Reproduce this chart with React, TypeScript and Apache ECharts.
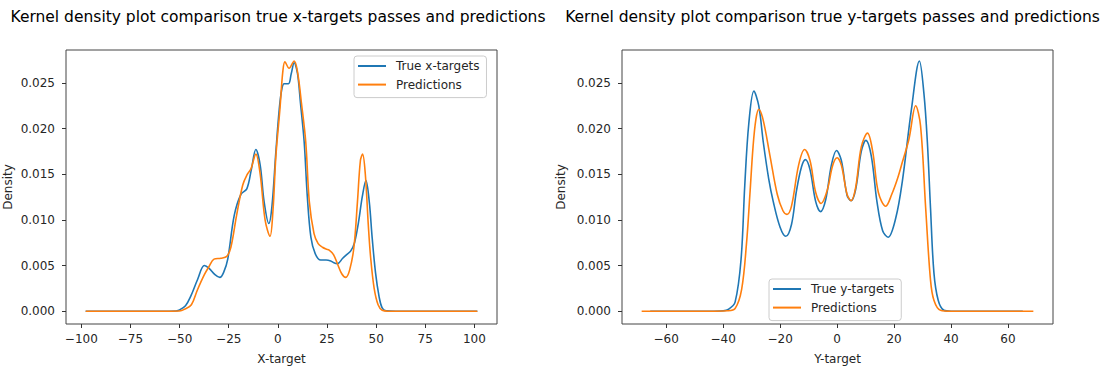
import React, { useEffect, useRef } from "react";
import * as echarts from "echarts";

// ---- data ----
const trueXTargets: [number, number][] = [
  [-97.8, 0], [-60, 0], [-52, 0.00002], [-50.5, 0.0001], [-47, 0.0006], [-44.2, 0.0017], [-40.8, 0.0035],
  [-37.4, 0.005], [-35, 0.0047], [-32, 0.004], [-29.5, 0.0037], [-27.5, 0.0043], [-25.5, 0.0057],
  [-22.2, 0.0105], [-18.8, 0.0128], [-15.8, 0.0134], [-13.5, 0.0155], [-11.2, 0.0177], [-9, 0.016],
  [-7, 0.012], [-4.6, 0.0096], [-3, 0.0115], [-1, 0.0175], [0.7, 0.0221], [2, 0.0243], [3.2, 0.0249],
  [5.4, 0.0249], [6.8, 0.026], [8.3, 0.0272], [10, 0.026], [11.5, 0.0228], [13.4, 0.0185], [15, 0.0125],
  [16.8, 0.0081], [19, 0.0063], [21.8, 0.0056], [24.5, 0.0056], [26.9, 0.0055], [28.5, 0.0053],
  [30.3, 0.0052], [33, 0.0058], [35, 0.0062], [37.1, 0.0066], [39, 0.0075], [41, 0.0097], [43, 0.0126],
  [44.8, 0.0143], [46.5, 0.012], [48, 0.008], [49.7, 0.0042], [51.5, 0.0016], [53, 0.0004], [55, 0.00005],
  [60, 0], [101.5, 0],
];
const predictionsX: [number, number][] = [
  [-97.8, 0], [-60, 0], [-50, 0.00003], [-47.6, 0.0002], [-44, 0.0007], [-41, 0.0023], [-37.4, 0.004],
  [-35, 0.0049], [-32.5, 0.0057], [-29, 0.0058], [-26, 0.006], [-23.9, 0.007], [-21, 0.0105],
  [-17.9, 0.0138], [-15.5, 0.015], [-13.7, 0.0156], [-11.2, 0.0172], [-9, 0.015], [-6.5, 0.01],
  [-4, 0.0082], [-2.5, 0.011], [-1, 0.017], [1, 0.022], [2.5, 0.0262], [3.6, 0.0273], [5.7, 0.0266],
  [8.3, 0.0274], [10, 0.0262], [12, 0.0228], [14.2, 0.0185], [16, 0.012], [18.4, 0.0085], [20.5, 0.0074],
  [22.7, 0.007], [24.5, 0.0068], [26.1, 0.0067], [28.3, 0.0062], [30.3, 0.0052], [32.5, 0.0041],
  [34.5, 0.0037], [36.5, 0.0045], [38.7, 0.007], [40.5, 0.012], [42, 0.0165], [43.1, 0.0172],
  [44.5, 0.015], [46, 0.0095], [47.2, 0.0059], [49, 0.0025], [51, 0.0007], [53.1, 0.0001], [56, 0],
  [101.5, 0],
];
const trueYTargets: [number, number][] = [
  [-65.6, 0], [-45, 0], [-40, 0.00005], [-38.2, 0.0002], [-35.8, 0.001], [-33.7, 0.0057], [-32.4, 0.0138],
  [-31, 0.0205], [-29.2, 0.0241], [-27.5, 0.0225], [-25.9, 0.0185], [-24, 0.0145], [-22.4, 0.012],
  [-20, 0.0092], [-18, 0.0082], [-16, 0.0095], [-14.3, 0.0131], [-12.5, 0.0158], [-11.1, 0.0166],
  [-9.5, 0.0155], [-7.5, 0.012], [-5.8, 0.0109], [-4, 0.0122], [-2, 0.016], [-0.2, 0.0176], [1.5, 0.0165],
  [3.5, 0.0127], [4.9, 0.0121], [6.5, 0.0133], [8.5, 0.0175], [10.1, 0.0187], [12, 0.017], [14, 0.012],
  [16, 0.0088], [17.9, 0.0081], [20.6, 0.0102], [22.9, 0.0142], [26.1, 0.0221], [28.9, 0.0274],
  [30.5, 0.0238], [31.7, 0.0185], [32.8, 0.0113], [34, 0.0042], [35.5, 0.0012], [37.5, 0.0001], [40, 0],
  [65.2, 0],
];
const predictionsY: [number, number][] = [
  [-68.6, 0], [-45, 0], [-38.5, 0.00005], [-35.8, 0.0003], [-33.5, 0.0024], [-31.8, 0.0074],
  [-30.6, 0.0128], [-29.5, 0.018], [-28.5, 0.021], [-27.5, 0.0221], [-26, 0.021], [-23.6, 0.0171],
  [-21, 0.0128], [-19, 0.011], [-17.6, 0.0106], [-16, 0.0115], [-13.5, 0.016], [-11.4, 0.0177],
  [-9.5, 0.0165], [-7.5, 0.013], [-5.6, 0.0118], [-3.5, 0.0132], [-1.5, 0.016], [0, 0.0168], [1.5, 0.016],
  [3.5, 0.0128], [4.9, 0.0121], [6.5, 0.0135], [8.5, 0.018], [10.7, 0.0195], [12.5, 0.0175],
  [14.5, 0.013], [17.1, 0.0115], [19.2, 0.0128], [21.2, 0.0145], [22.9, 0.0163], [25.2, 0.0188],
  [27.6, 0.0225], [29.3, 0.0203], [31.1, 0.0113], [32.8, 0.0034], [34, 0.0012], [36.3, 0.0001], [40, 0],
  [68.9, 0],
];

const xTicksLeft = [-100, -75, -50, -25, 0, 25, 50, 75, 100];
const xTicksRight = [-60, -40, -20, 0, 20, 40, 60];
const yTicks = [0, 0.005, 0.01, 0.015, 0.02, 0.025];

const titleLeft = "Kernel density plot comparison true x-targets passes and predictions";
const titleRight = "Kernel density plot comparison true y-targets passes and predictions";

const BLUE = "#1f77b4";
const ORANGE = "#ff7f0e";
const FONT = "DejaVu Sans";
const TXT = "#262626";
const FS = 12;

const minusFmt = (v: number) => (v < 0 ? "\u2212" + Math.abs(v) : String(v));

function xAxis(gridIndex: number, min: number, max: number, ticks: number[], name: string) {
  return {
    type: "value",
    gridIndex,
    min,
    max,
    name,
    nameLocation: "middle",
    nameGap: 29,
    nameTextStyle: { fontFamily: FONT, fontSize: FS, color: TXT },
    axisLine: { show: false, onZero: false },
    axisTick: { show: true, length: 4, customValues: ticks, lineStyle: { color: "#333", width: 1 } },
    axisLabel: {
      customValues: ticks,
      formatter: minusFmt,
      margin: 9,
      fontFamily: FONT,
      fontSize: FS,
      color: TXT,
    },
    splitLine: { show: false },
  };
}

function yAxis(gridIndex: number, nameGap: number) {
  return {
    type: "value",
    gridIndex,
    min: -0.0014,
    max: 0.0286,
    name: "Density",
    nameLocation: "middle",
    nameGap,
    nameRotate: 90,
    nameTextStyle: { fontFamily: FONT, fontSize: FS, color: TXT },
    axisLine: { show: false, onZero: false },
    axisTick: { show: true, length: 4, customValues: yTicks, lineStyle: { color: "#333", width: 1 } },
    axisLabel: {
      customValues: yTicks,
      formatter: (v: number) => v.toFixed(3),
      margin: 11,
      fontFamily: FONT,
      fontSize: FS,
      color: TXT,
    },
    splitLine: { show: false },
  };
}

function line(name: string, data: [number, number][], color: string, idx: number) {
  return {
    type: "line",
    name,
    data,
    xAxisIndex: idx,
    yAxisIndex: idx,
    showSymbol: false,
    smooth: 0.35,
    lineStyle: { color, width: 1.6 },
    itemStyle: { color },
    z: color === ORANGE ? 3 : 2,
  };
}

function legend(left: number, top: number, names: string[]) {
  return {
    orient: "vertical",
    left,
    top,
    padding: [3, 7, 6, 4],
    itemWidth: 28,
    itemHeight: 2,
    itemGap: 4.6,
    icon: "rect",
    selectedMode: false,
    backgroundColor: "rgba(255,255,255,0.8)",
    borderColor: "#cccccc",
    borderWidth: 1,
    borderRadius: 3,
    textStyle: { fontFamily: FONT, fontSize: FS, color: TXT, lineHeight: 14, padding: [0, 0, 0, 5] },
    data: names,
  };
}

export default function App() {
  const ref = useRef<HTMLDivElement>(null);
  useEffect(() => {
    document.body.style.margin = "0";
    const chart = echarts.init(ref.current!, null, { renderer: "svg" });
    chart.setOption({
      animation: false,
      backgroundColor: "#ffffff",
      grid: [
        { left: 66, top: 50, width: 431, height: 279, show: true, borderColor: "#444", borderWidth: 1 },
        { left: 622, top: 50, width: 431, height: 279, show: true, borderColor: "#444", borderWidth: 1 },
      ],
      xAxis: [
        xAxis(0, -107.8, 111.5, xTicksLeft, "X-target"),
        xAxis(1, -75.5, 75.8, xTicksRight, "Y-target"),
      ],
      yAxis: [yAxis(0, 52), yAxis(1, 55)],
      legend: [
        legend(354, 56, ["True x-targets", "Predictions"]),
        legend(769, 279, ["True y-targets", "Predictions"]),
      ],
      series: [
        line("True x-targets", trueXTargets, BLUE, 0),
        line("Predictions", predictionsX, ORANGE, 0),
        line("True y-targets", trueYTargets, BLUE, 1),
        line("Predictions", predictionsY, ORANGE, 1),
      ],
      graphic: [
        {
          type: "text",
          x: 278,
          y: 17,
          style: { text: titleLeft, font: `15.5px "${FONT}"`, fill: "#000", align: "center", verticalAlign: "middle" },
        },
        {
          type: "text",
          x: 832.5,
          y: 17,
          style: { text: titleRight, font: `15.5px "${FONT}"`, fill: "#000", align: "center", verticalAlign: "middle" },
        },
      ],
    });
    return () => chart.dispose();
  }, []);
  return <div ref={ref} style={{ width: 1108, height: 370 }} />;
}
